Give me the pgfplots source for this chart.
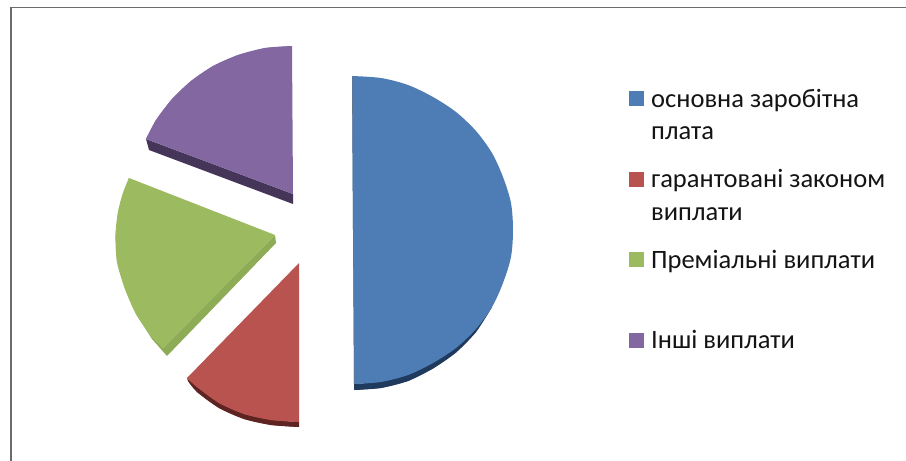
\documentclass[border=0pt]{standalone}
\usepackage{fontspec}
\setmainfont{Carlito}
\usepackage{pgfplots}
\pgfplotsset{compat=1.18}

\definecolor{sliceblue}{HTML}{4E7DB5}
\definecolor{slicered}{HTML}{B85350}
\definecolor{slicegreen}{HTML}{9CBA5F}
\definecolor{slicepurple}{HTML}{8267A1}
\definecolor{edgeblue}{HTML}{1F3A5C}
\definecolor{edgered}{HTML}{5E2422}
\definecolor{edgegreen}{HTML}{8EAB56}
\definecolor{edgepurple}{HTML}{453559}

\tikzset{lg/.style={font=\fontsize{26.5}{26.5}\selectfont, anchor=base west, inner sep=0pt, text=black!92}}

\begin{document}
\begin{tikzpicture}[x=1pt,y=1pt]
\begin{axis}[
    scale only axis,
    width=906pt,
    height=461pt,
    xmin=0, xmax=906,
    ymin=0, ymax=461,
    y dir=reverse,
    hide axis,
    clip=false,
    every axis plot/.append style={no markers, draw=none, line width=0pt},
]
\path[use as bounding box] (axis cs:0,0) rectangle (axis cs:906,461);

% frame, only top and left show
\addplot[draw=gray!85!black, line width=1.2pt] coordinates {(906,7.5) (11,7.5)};
\addplot[draw=gray!85!black, line width=2pt] coordinates {(11,7) (11,461)};

% blue slice: polygon first, smooth copy rounds the arc
\addplot[fill=edgeblue] coordinates {
    (492,307) (476,329) (456,348) (433,363) (408,375) (381,382) (354,384)
    (354,390) (381,388) (408,381) (433,368.5) (456,352.5) (476,332)};
\addplot[fill=edgeblue, smooth] coordinates {
    (354,390) (381,388) (408,381) (433,368.5) (456,352.5) (476,332) (492,307)};
\addplot[fill=sliceblue, smooth] coordinates {
    (352,76) (381,78) (408,85) (433,97) (456,112) (476,131) (492,153) (503,177) (511,203)
    (513,230) (511,257) (503,283) (492,307) (476,329) (456,348) (433,363) (408,375) (381,382) (354,384)};
\addplot[draw=edgeblue!70!white, line width=0.6pt] coordinates {(352.3,76) (354.3,384)};

% red slice
\addplot[fill=edgered] coordinates {
    (187,378) (197,387) (219,403) (244,414) (271,420) (299,422)
    (299,427) (271,425) (244,419) (219,408) (197,392) (188,381)};
\addplot[fill=edgered, smooth] coordinates {
    (299,427) (271,425) (244,419) (219,408) (197,392) (188,381)};
\addplot[fill=slicered] coordinates {
    (299,263) (187,378) (197,387) (219,403) (244,414) (271,420) (299,422)};
\addplot[fill=slicered, smooth] coordinates {
    (187,378) (197,387) (219,403) (244,414) (271,420) (299,422)};

% green slice
\addplot[fill=edgegreen] coordinates {
    (136,314) (152,339) (167,356) (276,243) (275,235) (163,348) (152,337)};
\addplot[fill=slicegreen] coordinates {
    (129,178) (123,193) (118,212) (115.5,235) (117,262) (125,289) (136,314) (152,337) (163,348) (275,235)};
\addplot[fill=slicegreen, smooth] coordinates {
    (129,178) (123,193) (118,212) (115.5,235) (117,262) (125,289) (136,314) (152,337) (163,348)};

% purple slice
\addplot[fill=edgepurple] coordinates {(146,139) (149,150) (293,204) (293,194)};
\addplot[fill=slicepurple] coordinates {
    (292,46) (265,48) (238,55) (213,66) (191,81) (172,99) (156,120) (146,139) (293,194)};
\addplot[fill=slicepurple, smooth] coordinates {
    (292,46) (265,48) (238,55) (213,66) (191,81) (172,99) (156,120) (146,139)};

% legend keys
\addplot[fill=sliceblue] coordinates {(629,91) (644,91) (644,106) (629,106)};
\addplot[fill=slicered] coordinates {(629,172) (644,172) (644,187) (629,187)};
\addplot[fill=slicegreen] coordinates {(629,252) (644,252) (644,267) (629,267)};
\addplot[fill=slicepurple] coordinates {(629,333) (644,333) (644,348) (629,348)};

\node[lg] at (axis cs:651,107) {основна заробітна};
\node[lg] at (axis cs:651,139) {плата};
\node[lg] at (axis cs:651,187) {гарантовані законом};
\node[lg] at (axis cs:651,220) {виплати};
\node[lg] at (axis cs:651,268) {Преміальні виплати};
\node[lg] at (axis cs:651,348) {Інші виплати};
\end{axis}
\end{tikzpicture}
\end{document}
